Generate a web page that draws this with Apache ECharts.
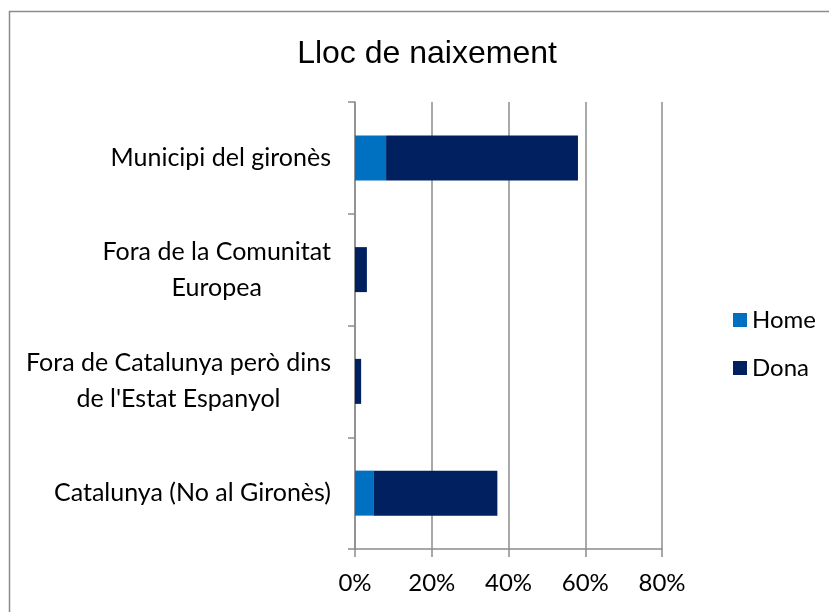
<!DOCTYPE html>
<html>
<head>
<meta charset="utf-8">
<script src="https://cdn.jsdelivr.net/npm/echarts@6/dist/echarts.min.js"></script>
<style>
  html, body { margin: 0; padding: 0; background: #fff; }
  #chart { width: 829px; height: 612px; }
</style>
</head>
<body>
<div id="chart"></div>
<script>
  // categories, bottom to top
  var categories = [
    'Catalunya (No al Gironès)',
    "Fora de Catalunya però dins\nde l'Estat Espanyol",
    'Fora de la Comunitat\nEuropea',
    'Municipi del gironès'
  ];
  var homeValues = [4.8, 0, 0, 8.1];
  var donaValues = [32.3, 1.6, 3.1, 50.0];
  var xTicks = [0, 20, 40, 60, 80];

  var labelFont = 'Lato, "Open Sans", sans-serif';
  var fs = 24;
  var catFs = 25;

  var myChart = echarts.init(document.getElementById('chart'));
  var option = {
    animation: false,
    title: {
      text: 'Lloc de naixement',
      left: 422,
      textAlign: 'center',
      top: 33,
      textStyle: {
        fontFamily: '"Liberation Sans", Arial, sans-serif',
        fontSize: 32,
        fontWeight: 'normal',
        color: '#000'
      }
    },
    graphic: [
      {
        type: 'rect',
        shape: { x: 9.5, y: 11.5, width: 900, height: 700 },
        style: { fill: 'none', stroke: '#8c8c8c', lineWidth: 1.5 },
        silent: true
      }
    ],
    legend: {
      orient: 'vertical',
      left: 728,
      top: 303,
      itemWidth: 14,
      itemHeight: 14,
      itemGap: 24,
      icon: 'rect',
      textStyle: { fontFamily: labelFont, fontSize: fs, color: '#000' },
      data: ['Home', 'Dona']
    },
    grid: {
      left: 355,
      right: 167,
      top: 102,
      bottom: 63,
      containLabel: false
    },
    xAxis: {
      type: 'value',
      min: xTicks[0],
      max: xTicks[xTicks.length - 1],
      interval: 20,
      axisLine: { show: true, lineStyle: { color: '#8c8c8c', width: 1.5 } },
      axisTick: { show: true, length: 8, lineStyle: { color: '#8c8c8c', width: 1.5 } },
      splitLine: { show: true, lineStyle: { color: '#8c8c8c', width: 1.5 } },
      axisLabel: {
        formatter: '{value}%',
        margin: 22,
        fontFamily: labelFont,
        fontSize: fs,
        color: '#000'
      }
    },
    yAxis: {
      type: 'category',
      data: categories,
      axisLine: { show: true, lineStyle: { color: '#8c8c8c', width: 1.5 } },
      axisTick: { show: true, length: 7, lineStyle: { color: '#8c8c8c', width: 1.5 } },
      axisLabel: {
        margin: 24,
        align: 'right',
        lineHeight: 36,
        fontFamily: labelFont,
        fontSize: catFs,
        color: '#000',
        formatter: function (v) {
          return v.split('\n').map(function (s) { return '{c|' + s + '}'; }).join('\n');
        },
        rich: {
          c: { align: 'center', fontFamily: labelFont, fontSize: catFs, lineHeight: 36, color: '#000' }
        }
      }
    },
    series: [
      {
        name: 'Home',
        type: 'bar',
        stack: 'total',
        barWidth: 45,
        itemStyle: { color: '#0070c0' },
        data: homeValues
      },
      {
        name: 'Dona',
        type: 'bar',
        stack: 'total',
        barWidth: 45,
        itemStyle: { color: '#002060' },
        data: donaValues
      }
    ]
  };
  myChart.setOption(option);
</script>
</body>
</html>
